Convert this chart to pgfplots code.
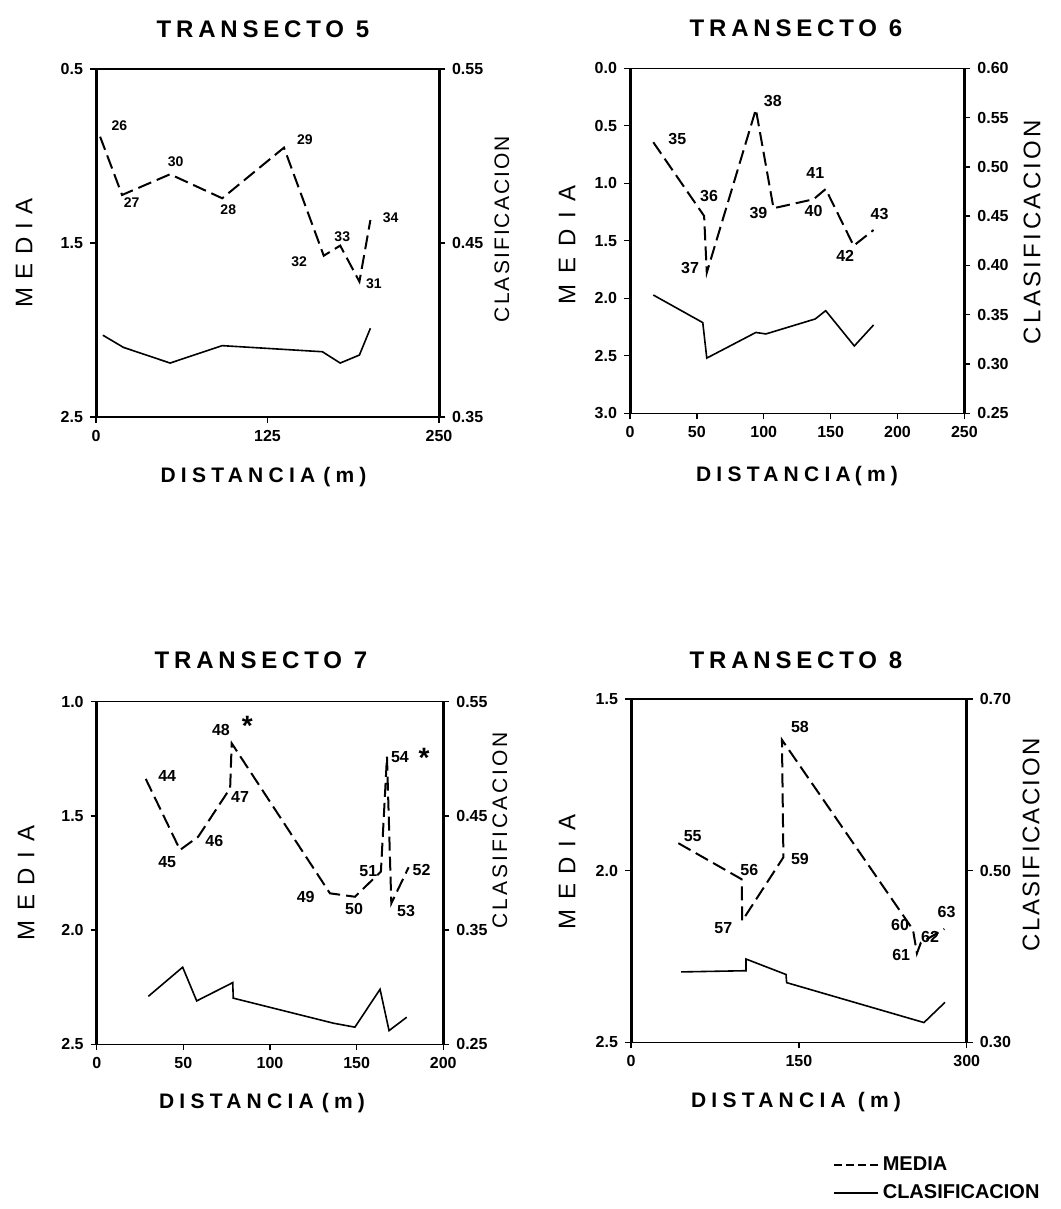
\documentclass[border=0pt]{standalone}
\usepackage{pgfplots}
\pgfplotsset{compat=1.18}
\usepackage{fontspec}
\setmainfont{Liberation Sans}
\newcommand{\ttl}[1]{{\fontsize{12}{14}\selectfont\bfseries\addfontfeatures{LetterSpace=20}#1}}
\newcommand{\xlab}[1]{{\fontsize{10.5}{12}\selectfont\bfseries\addfontfeatures{LetterSpace=25}#1}}
\newcommand{\ylab}[3]{{\fontsize{#1}{14}\selectfont\addfontfeatures{LetterSpace=#2}#3}}
\tikzset{
  media/.style={black, mark=none, line width=1pt, dash pattern=on 7pt off 3pt},
  clas/.style={black, mark=none, line width=0.8pt, solid},
  plab/.style={font=\fontsize{8}{9}\selectfont\bfseries, inner sep=0pt},
  plabs/.style={font=\fontsize{7}{8}\selectfont\bfseries, inner sep=0pt},
  ast/.style={font=\fontsize{14}{14}\selectfont\bfseries, inner sep=0pt},
}
\pgfplotsset{
  panel/.style={scale only axis, anchor=south west, tick align=outside,
    major tick length=3pt, tick style={black, line width=0.7pt},
    tick label style={font=\fontsize{8}{9}\selectfont\bfseries},
    clip=false},
  medax/.style={panel, y dir=reverse, separate axis lines,
    x axis line style={line width=0.6pt},
    y axis line style={line width=1.5pt},
    xtick pos=left, ytick pos=left},
  clasax/.style={panel, axis x line=none, axis y line*=right,
    y axis line style={line width=1.5pt}},
}
\begin{document}
\begin{tikzpicture}
\path[use as bounding box] (0pt,0pt) rectangle (530pt,604.5pt);

% ---------------- TRANSECTO 5
\begin{axis}[medax, at={(48pt,396pt)}, width=171.5pt, height=174pt,
  xmin=0, xmax=250, ymin=0.5, ymax=2.5,
  xtick={0,125,250}, xticklabels={0,125,250},
  ytick={0.5,1.5,2.5}, yticklabels={0.5,1.5,2.5}]
\addplot[media] table {
3 0.889
19 1.224
54 1.105
92 1.243
137 0.952
166 1.573
178 1.515
192 1.722
200 1.368
};
\node[plabs] at (axis cs:17,0.828) {26};
\node[plabs] at (axis cs:26,1.268) {27};
\node[plabs] at (axis cs:58,1.033) {30};
\node[plabs] at (axis cs:96.4,1.306) {28};
\node[plabs] at (axis cs:152.3,0.904) {29};
\node[plabs] at (axis cs:148,1.607) {32};
\node[plabs] at (axis cs:179.5,1.464) {33};
\node[plabs] at (axis cs:202.6,1.736) {31};
\node[plabs] at (axis cs:214.8,1.354) {34};
\end{axis}
\begin{axis}[clasax, at={(48pt,396pt)}, width=171.5pt, height=174pt,
  xmin=0, xmax=250, ymin=0.35, ymax=0.55,
  ytick={0.35,0.45,0.55}, yticklabels={0.35,0.45,0.55}]
\addplot[clas] table {
5 0.397
20 0.390
54 0.381
92 0.391
165 0.3875
178 0.381
192 0.3856
200 0.401
};
\end{axis}

% ---------------- TRANSECTO 6
\begin{axis}[medax, at={(315pt,397.85pt)}, width=167.2pt, height=172.5pt,
  xmin=0, xmax=250, ymin=0, ymax=3,
  xtick={0,50,100,150,200,250}, xticklabels={0,50,100,150,200,250},
  ytick={0,0.5,1,1.5,2,2.5,3}, yticklabels={0.0,0.5,1.0,1.5,2.0,2.5,3.0}]
\addplot[media] table {
17.4 0.643
55.4 1.284
57.4 1.777
94.1 0.357
107.3 1.217
137.2 1.139
146.3 1.050
167.2 1.543
182.1 1.406
};
\node[plab] at (axis cs:35.4,0.617) {35};
\node[plab] at (axis cs:59.1,1.108) {36};
\node[plab] at (axis cs:44.9,1.739) {37};
\node[plab] at (axis cs:106.8,0.282) {38};
\node[plab] at (axis cs:96,1.261) {39};
\node[plab] at (axis cs:137.2,1.238) {40};
\node[plab] at (axis cs:138.5,0.913) {41};
\node[plab] at (axis cs:160.9,1.630) {42};
\node[plab] at (axis cs:186.6,1.267) {43};
\end{axis}
\begin{axis}[clasax, at={(315pt,397.85pt)}, width=167.2pt, height=172.5pt,
  xmin=0, xmax=250, ymin=0.25, ymax=0.60,
  ytick={0.25,0.30,0.35,0.40,0.45,0.50,0.55,0.60},
  yticklabels={0.25,0.30,0.35,0.40,0.45,0.50,0.55,0.60}]
\addplot[clas] table {
17.4 0.370
54.4 0.342
57.4 0.306
94.1 0.332
101.6 0.3305
138.5 0.3457
146.3 0.3541
167.7 0.3183
182.1 0.3396
};
\end{axis}

% ---------------- TRANSECTO 7
\begin{axis}[medax, at={(48.35pt,82.35pt)}, width=173.3pt, height=171.3pt,
  xmin=0, xmax=200, ymin=1.0, ymax=2.5,
  xtick={0,50,100,150,200}, xticklabels={0,50,100,150,200},
  ytick={1,1.5,2,2.5}, yticklabels={1.0,1.5,2.0,2.5}]
\addplot[media] table {
28.3 1.338
48.1 1.649
58.6 1.591
77.0 1.379
77.9 1.182
134.6 1.839
149.0 1.854
164.0 1.744
167.5 1.241
170.0 1.883
180.0 1.725
};
\node[plab] at (axis cs:40.7,1.324) {44};
\node[plab] at (axis cs:40.7,1.703) {45};
\node[plab] at (axis cs:67.9,1.609) {46};
\node[plab] at (axis cs:82.7,1.419) {47};
\node[plab] at (axis cs:71.7,1.124) {48};
\node[ast] at (axis cs:86.9,1.105) {*};
\node[plab] at (axis cs:175,1.241) {54};
\node[ast] at (axis cs:188.9,1.245) {*};
\node[plab] at (axis cs:120.6,1.857) {49};
\node[plab] at (axis cs:148.5,1.909) {50};
\node[plab] at (axis cs:156.7,1.741) {51};
\node[plab] at (axis cs:187.5,1.737) {52};
\node[plab] at (axis cs:178.5,1.915) {53};
\end{axis}
\begin{axis}[clasax, at={(48.35pt,82.35pt)}, width=173.3pt, height=171.3pt,
  xmin=0, xmax=200, ymin=0.25, ymax=0.55,
  ytick={0.25,0.35,0.45,0.55}, yticklabels={0.25,0.35,0.45,0.55}]
\addplot[clas] table {
29.8 0.292
49.6 0.3175
57.7 0.288
78.5 0.304
78.8 0.2904
136.5 0.2685
149.0 0.265
163.5 0.2982
168.7 0.262
178.9 0.2737
};
\end{axis}

% ---------------- TRANSECTO 8
\begin{axis}[medax, at={(315.5pt,83.35pt)}, width=167.85pt, height=171.65pt,
  xmin=0, xmax=300, ymin=1.5, ymax=2.5,
  xtick={0,150,300}, xticklabels={0,150,300},
  ytick={1.5,2,2.5}, yticklabels={1.5,2.0,2.5},
  legend style={at={(0.60,-0.32)}, anchor=north west, draw=none, fill=none,
    font=\fontsize{10}{12}\selectfont\bfseries, row sep=1.5pt,
    inner sep=0pt, cells={anchor=west}},
  legend image code/.code={\draw[#1] (0pt,0pt) -- (22pt,0pt);}]
\addplot[media, forget plot] table {
42.3 1.920
98.9 2.025
99.4 2.146
136.2 1.961
134.9 1.619
252.0 2.172
255.5 2.241
259.0 2.210
280.0 2.170
};
\addlegendimage{media, dash pattern=on 4pt off 2pt}
\addlegendentry{MEDIA}
\addlegendimage{clas}
\addlegendentry{CLASIFICACION}
\node[plab] at (axis cs:55.1,1.899) {55};
\node[plab] at (axis cs:105.7,1.998) {56};
\node[plab] at (axis cs:82.5,2.168) {57};
\node[plab] at (axis cs:151,1.581) {58};
\node[plab] at (axis cs:151,1.967) {59};
\node[plab] at (axis cs:240.5,2.158) {60};
\node[plab] at (axis cs:241.5,2.245) {61};
\node[plab] at (axis cs:267.2,2.194) {62};
\node[plab] at (axis cs:282,2.12) {63};
\end{axis}
\begin{axis}[clasax, at={(315.5pt,83.35pt)}, width=167.85pt, height=171.65pt,
  xmin=0, xmax=300, ymin=0.30, ymax=0.70,
  ytick={0.30,0.50,0.70}, yticklabels={0.30,0.50,0.70}]
\addplot[clas] table {
44.7 0.382
102.8 0.3834
102.8 0.397
138.5 0.379
139.1 0.3695
261.8 0.323
280.6 0.3466
};
\end{axis}

% ---------------- titles and labels
\node at (131.5pt,590pt) {\ttl{TRANSECTO\hspace{6pt}5}};
\node at (398pt,590.5pt) {\ttl{TRANSECTO\hspace{6pt}6}};
\node at (130.5pt,274.5pt) {\ttl{TRANSECTO\hspace{6pt}7}};
\node at (398pt,274.5pt) {\ttl{TRANSECTO\hspace{6pt}8}};

\node at (131.75pt,365.75pt) {\xlab{DISTANCIA\hspace{4pt}(m)}};
\node at (398.5pt,366.5pt) {\xlab{DISTANCIA\hspace{2pt}(m)}};
\node at (131pt,53pt) {\xlab{DISTANCIA\hspace{4pt}(m)}};
\node at (398pt,53.5pt) {\xlab{DISTANCIA\hspace{6pt}(m)}};

\node[rotate=90] at (12pt,478pt) {\ylab{12}{35}{MEDIA}};
\node[rotate=90] at (283.5pt,482pt) {\ylab{12}{45}{MEDIA}};
\node[rotate=90] at (13pt,163pt) {\ylab{12}{40}{MEDIA}};
\node[rotate=90] at (283.5pt,168.5pt) {\ylab{12}{40}{MEDIA}};

\node[rotate=90] at (251pt,490pt) {\ylab{10.5}{10}{CLASIFICACION}};
\node[rotate=90] at (516pt,488.5pt) {\ylab{12}{14}{CLASIFICACION}};
\node[rotate=90] at (250pt,189.5pt) {\ylab{10.5}{14}{CLASIFICACION}};
\node[rotate=90] at (515.5pt,182pt) {\ylab{12}{10}{CLASIFICACION}};
\end{tikzpicture}
\end{document}
